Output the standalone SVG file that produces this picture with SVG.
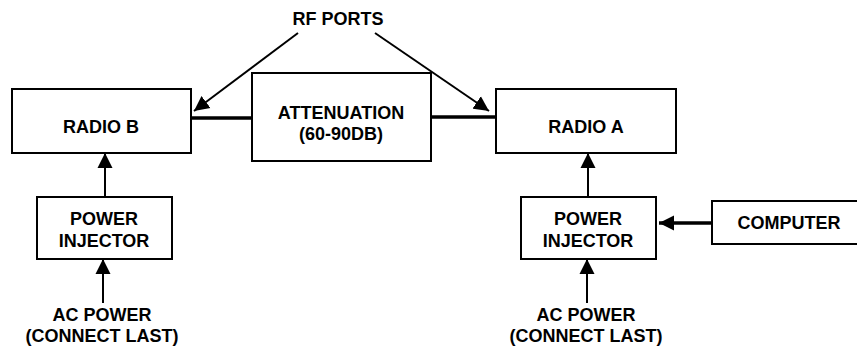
<svg xmlns="http://www.w3.org/2000/svg" width="857" height="349" viewBox="0 0 857 349">
<style>
.box{fill:#fff;stroke:#000;stroke-width:2}
.t{font-family:"Liberation Sans",Arial,sans-serif;font-weight:bold;font-size:18px;fill:#000;text-anchor:middle}
.a{stroke:#000;stroke-width:2;fill:none}
.thick{stroke:#000;stroke-width:3.5;fill:none}
</style>
<defs>
<marker id="ah" markerUnits="userSpaceOnUse" markerWidth="16" markerHeight="16" viewBox="0 0 16 16" refX="15" refY="8" orient="auto">
<path d="M0,0.5 L15,8 L0,15.5 Z" fill="#000"/>
</marker>
</defs>
<rect width="857" height="349" fill="#fff"/>
<g id="connectors">
<line class="thick" x1="191" y1="118" x2="252" y2="118"/>
<line class="thick" x1="431" y1="117" x2="496" y2="117"/>
<line class="a" x1="298" y1="33" x2="194" y2="111" marker-end="url(#ah)"/>
<line class="a" x1="375" y1="33" x2="489" y2="111" marker-end="url(#ah)"/>
<line class="a" x1="105" y1="197" x2="105" y2="153" marker-end="url(#ah)"/>
<line class="a" x1="103" y1="303" x2="103" y2="259" marker-end="url(#ah)"/>
<line class="a" x1="588" y1="197" x2="588" y2="153" marker-end="url(#ah)"/>
<line class="a" x1="587" y1="303" x2="587" y2="259" marker-end="url(#ah)"/>
<line class="thick" x1="712" y1="223" x2="659" y2="223" marker-end="url(#ah)"/>
</g>
<g id="rf-ports"><text class="t" x="338" y="25">RF PORTS</text></g>
<g id="radio-b"><rect class="box" x="12" y="89" width="179" height="64"/><text class="t" x="101" y="133">RADIO B</text></g>
<g id="attenuation"><rect class="box" x="252" y="73" width="179" height="88"/><text class="t" x="341" y="119">ATTENUATION</text><text class="t" x="341" y="140">(60-90DB)</text></g>
<g id="radio-a"><rect class="box" x="496" y="89" width="180" height="64"/><text class="t" x="586" y="133">RADIO A</text></g>
<g id="injector-b"><rect class="box" x="37" y="197" width="135" height="62"/><text class="t" x="104" y="225">POWER</text><text class="t" x="104" y="247">INJECTOR</text></g>
<g id="injector-a"><rect class="box" x="521" y="197" width="135" height="62"/><text class="t" x="588" y="225">POWER</text><text class="t" x="588" y="247">INJECTOR</text></g>
<g id="computer"><rect class="box" x="712" y="201" width="150" height="43"/><text class="t" x="789" y="229">COMPUTER</text></g>
<g id="ac-b"><text class="t" x="102" y="321">AC POWER</text><text class="t" x="102" y="342">(CONNECT LAST)</text></g>
<g id="ac-a"><text class="t" x="586" y="321">AC POWER</text><text class="t" x="586" y="342">(CONNECT LAST)</text></g>
</svg>
